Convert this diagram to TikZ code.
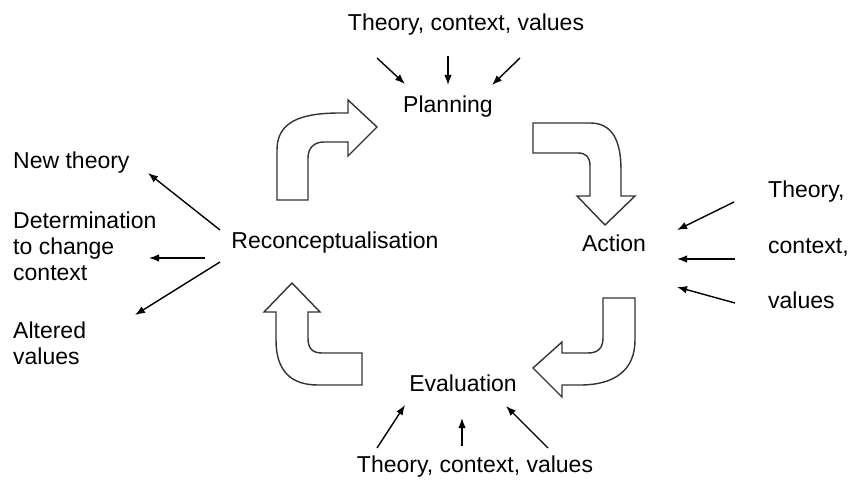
\documentclass[tikz,border=0pt]{standalone}
\usepackage{fontspec}
\setmainfont{Liberation Sans}
\usetikzlibrary{arrows.meta,positioning}

\begin{document}
\begin{tikzpicture}[x=1pt,y=-1pt,>={Latex[length=10pt,width=7.5pt]},
  label node/.style={inner sep=0pt,font=\fontsize{23}{26}\selectfont},
  small arrow/.style={->,line width=1.4pt},
  block arrow/.style={draw=black!80,line width=1.4pt,fill=white,line join=miter}]
\useasboundingbox (0,0) rectangle (852,481);

\node[label node] (topsrc) at (466,25) {Theory, context, values};
\node[label node] (plan) at (448,107) {Planning};
\node[label node] (act) at (614,243) {Action};
\node[label node] (eval) at (463,383) {Evaluation};
\node[label node] (recon) at (335,243) {Reconceptualisation};
\node[label node] (botsrc) at (475,467) {Theory, context, values};
\node[label node,anchor=west] (newth) at (13,163) {New theory};
\node[label node,anchor=west,align=left] (determ) at (13,246) {Determination\\to change\\context};
\node[label node,anchor=west,align=left] (alter) at (13,343) {Altered\\values};
\node[label node,anchor=west] (rth) at (768,192) {Theory,};
\node[label node,anchor=west] (rco) at (768,248) {context,};
\node[label node,anchor=west] (rva) at (768,300) {values};

% ends of the small arrows
\coordinate (t1) at (377,58);  \coordinate (t1e) at (405,84);
\coordinate (t2) at (448,56);  \coordinate (t2e) at (448,85);
\coordinate (t3) at (520,58);  \coordinate (t3e) at (492,85);
\coordinate (r1) at (734,202); \coordinate (r1e) at (677,230);
\coordinate (r2) at (735,259); \coordinate (r2e) at (677,259);
\coordinate (r3) at (735,303); \coordinate (r3e) at (677,287);
\coordinate (b1) at (377,448); \coordinate (b1e) at (405,405);
\coordinate (b2) at (462,446); \coordinate (b2e) at (462,418);
\coordinate (b3) at (548,448); \coordinate (b3e) at (506,406);
\coordinate (l1) at (220,230); \coordinate (l1e) at (148,173);
\coordinate (l2) at (205,258); \coordinate (l2e) at (149,258);
\coordinate (l3) at (220,262); \coordinate (l3e) at (135,315);

\draw (t1) edge[small arrow] (t1e) (t2) edge[small arrow] (t2e) (t3) edge[small arrow] (t3e);
\draw (r1) edge[small arrow] (r1e) (r2) edge[small arrow] (r2e) (r3) edge[small arrow] (r3e);
\draw (b1) edge[small arrow] (b1e) (b2) edge[small arrow] (b2e) (b3) edge[small arrow] (b3e);
\draw (l1) edge[small arrow] (l1e) (l2) edge[small arrow] (l2e) (l3) edge[small arrow] (l3e);

% bent block arrows of the cycle
\draw[block arrow] (277,200) -- (277,150) .. controls (277,122) and (300,113) .. (340,113)
  -- (348,113) -- (348,100) -- (377,127) -- (348,156) -- (348,142) -- (324,142)
  .. controls (314,142) and (308,148) .. (308,158) -- (308,200) -- cycle;
\draw[block arrow] (533,123) -- (590,123) .. controls (612,123) and (621,140) .. (621,170)
  -- (621,196) -- (635,196) -- (605,225) -- (577,196) -- (590,196) -- (590,166)
  .. controls (590,157) and (586,153) .. (578,153) -- (533,153) -- cycle;
\draw[block arrow] (603,298) -- (635,298) -- (635,340) .. controls (635,370) and (615,385) .. (580,385)
  -- (562,385) -- (562,397) -- (533,368) -- (562,342) -- (562,353) -- (588,353)
  .. controls (598,353) and (603,348) .. (603,338) -- cycle;
\draw[block arrow] (362,353) -- (362,385) -- (318,385) .. controls (290,385) and (276,370) .. (276,340)
  -- (276,312) -- (264,312) -- (292,283) -- (320,312) -- (308,312) -- (308,338)
  .. controls (308,348) and (312,353) .. (322,353) -- cycle;
\end{tikzpicture}
\end{document}
